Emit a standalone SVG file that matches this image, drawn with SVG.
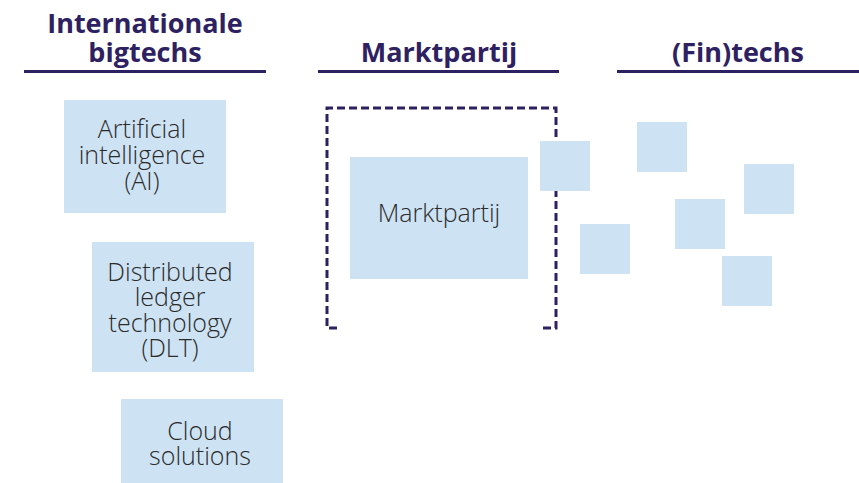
<svg xmlns="http://www.w3.org/2000/svg" width="859" height="483" viewBox="0 0 859 483">
  <style>
    .head { font-family: "Open Sans", "Liberation Sans", sans-serif; font-weight: 700; font-size: 27px; fill: #2e2162; text-anchor: middle; }
    .rule { stroke: #2e2162; stroke-width: 3; fill: none; }
    .box { fill: #cde3f3; }
    .label { font-family: "Open Sans", "Liberation Sans", sans-serif; font-weight: 300; font-size: 25px; fill: #2b2b2b; text-anchor: middle; }
    .bracket { stroke: #2e2162; stroke-width: 3; fill: none; stroke-dasharray: 8 4; }
  </style>

  <!-- column headings -->
  <g id="heading-bigtechs">
    <text class="head" x="145" y="33">Internationale</text>
    <text class="head" x="145" y="62">bigtechs</text>
    <line class="rule" x1="24" y1="71.5" x2="266" y2="71.5"/>
  </g>
  <g id="heading-marktpartij">
    <text class="head" x="439" y="62">Marktpartij</text>
    <line class="rule" x1="318" y1="71.5" x2="559" y2="71.5"/>
  </g>
  <g id="heading-fintechs">
    <text class="head" x="738" y="62">(Fin)techs</text>
    <line class="rule" x1="617" y1="71.5" x2="859" y2="71.5"/>
  </g>

  <!-- bigtech technologies -->
  <g id="node-ai">
    <rect class="box" x="64" y="100" width="162" height="113"/>
    <text class="label" x="142" y="138">Artificial</text>
    <text class="label" x="142" y="164">intelligence</text>
    <text class="label" x="142" y="190">(AI)</text>
  </g>
  <g id="node-dlt">
    <rect class="box" x="92" y="242" width="162" height="130"/>
    <text class="label" x="170" y="281">Distributed</text>
    <text class="label" x="170" y="306">ledger</text>
    <text class="label" x="170" y="332">technology</text>
    <text class="label" x="170" y="357">(DLT)</text>
  </g>
  <g id="node-cloud">
    <rect class="box" x="121" y="399" width="162" height="84"/>
    <text class="label" x="200" y="440">Cloud</text>
    <text class="label" x="200" y="465">solutions</text>
  </g>

  <!-- market party with its dashed boundary -->
  <g id="node-marktpartij">
    <path class="bracket" d="M337,328 H327 V108 H556 V328 H540"/>
    <rect class="box" x="350" y="157" width="178" height="122"/>
    <text class="label" x="439" y="222">Marktpartij</text>
  </g>

  <!-- (fin)techs -->
  <g id="fintech-1"><rect class="box" x="540" y="141" width="50" height="50"/></g>
  <g id="fintech-2"><rect class="box" x="580" y="224" width="50" height="50"/></g>
  <g id="fintech-3"><rect class="box" x="637" y="122" width="50" height="50"/></g>
  <g id="fintech-4"><rect class="box" x="675" y="199" width="50" height="50"/></g>
  <g id="fintech-5"><rect class="box" x="744" y="164" width="50" height="50"/></g>
  <g id="fintech-6"><rect class="box" x="722" y="256" width="50" height="50"/></g>

  <g id="connectors"></g>
</svg>
